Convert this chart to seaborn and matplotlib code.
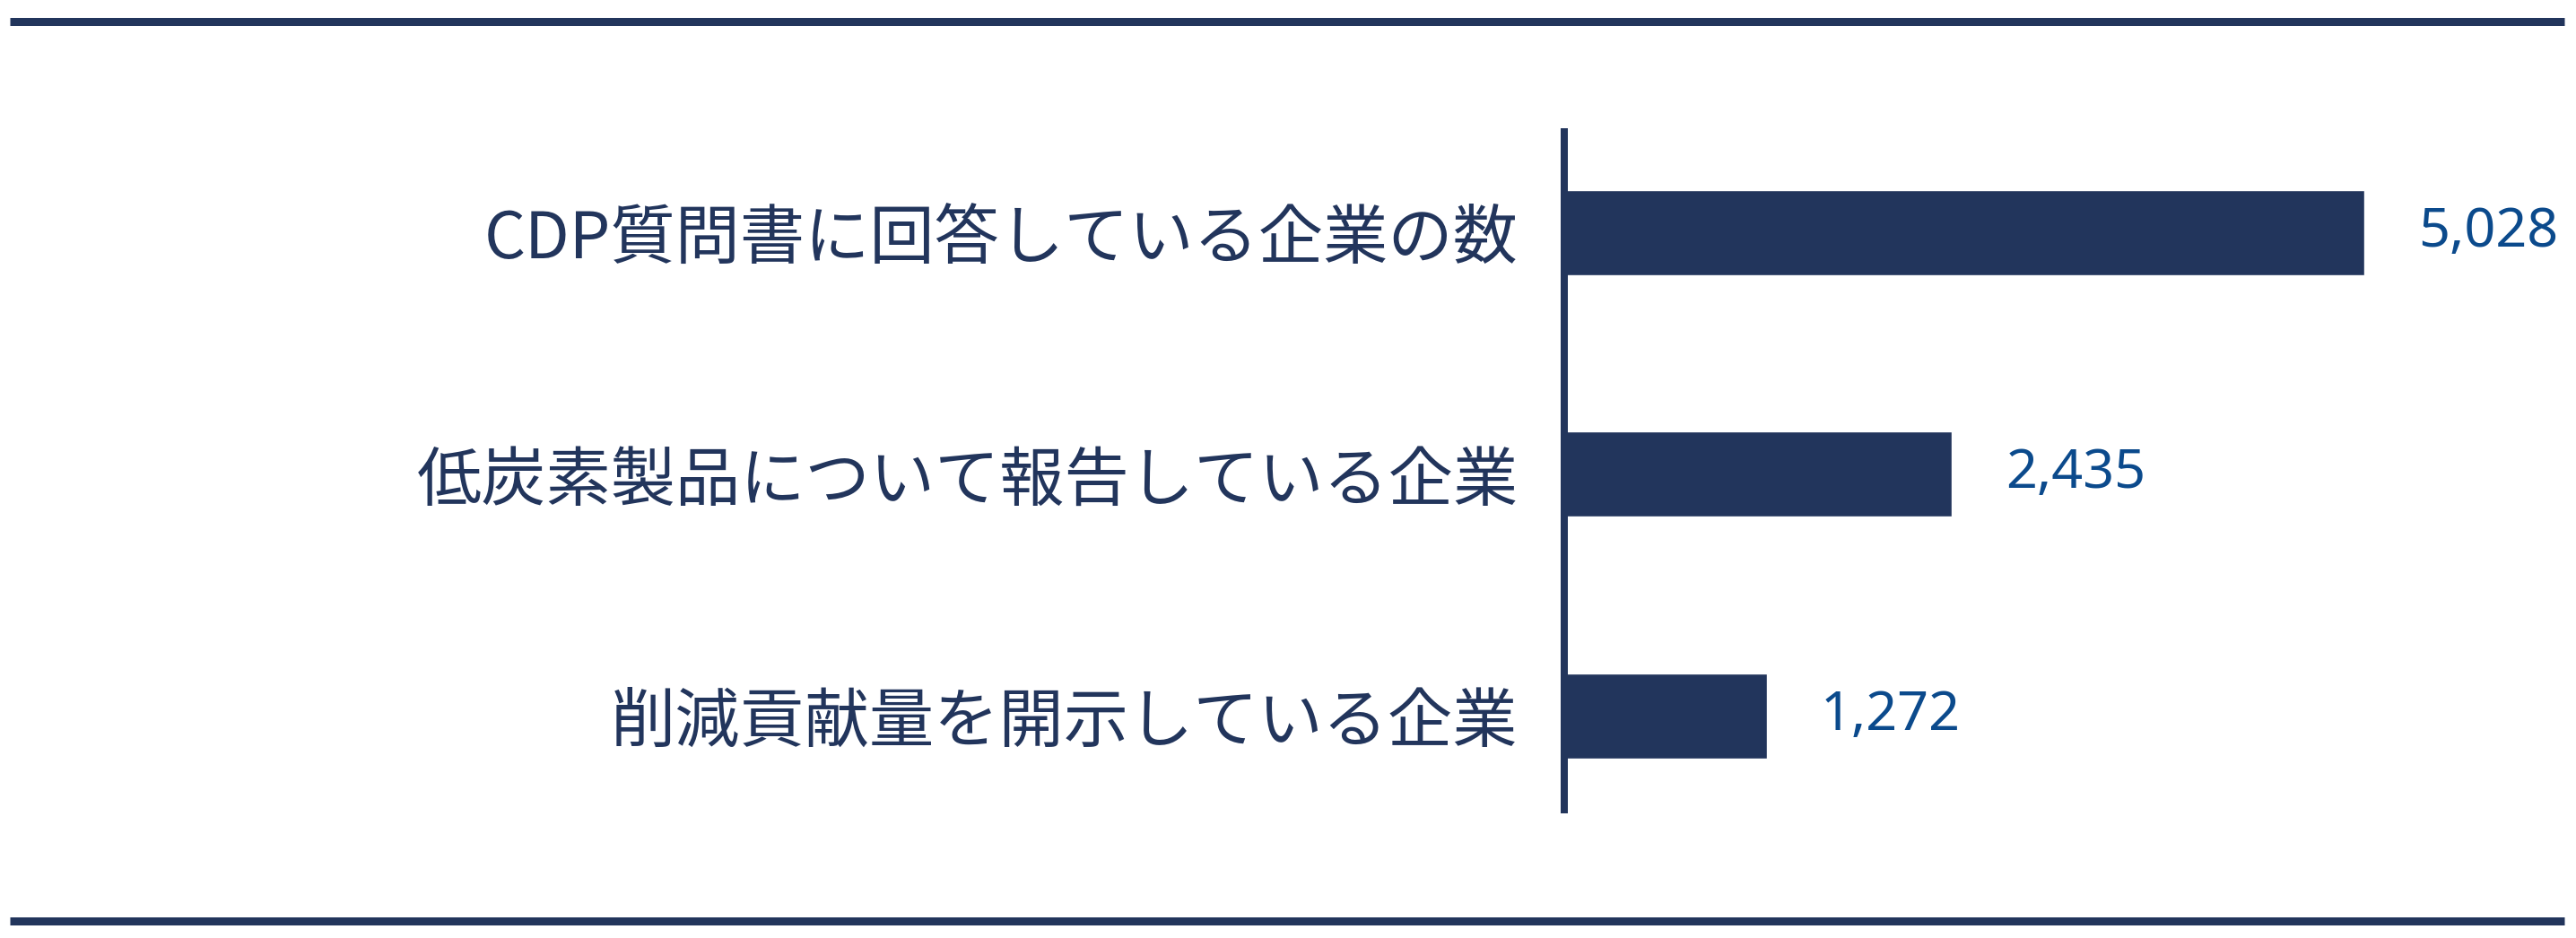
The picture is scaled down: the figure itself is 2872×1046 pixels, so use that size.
import matplotlib
matplotlib.use("Agg")
import matplotlib.pyplot as plt
from matplotlib.lines import Line2D
import seaborn as sns
import pandas as pd

categories = ["CDP質問書に回答している企業の数",
              "低炭素製品について報告している企業",
              "削減貢献量を開示している企業"]
counts = [5028, 2435, 1272]
value_labels = ["5,028", "2,435", "1,272"]

navy = "#22355c"
blue = "#0b4a8c"

sns.set_theme(style="white")
plt.rcParams["font.family"] = ["Noto Sans CJK JP", "DejaVu Sans"]

df = pd.DataFrame({"category": categories, "count": counts})

W, H = 2872, 1046
fig = plt.figure(figsize=(W / 100, H / 100), dpi=100)
ax = fig.add_axes([1744 / W, (H - 903) / H, 1 - 1744 / W, 756 / H])

sns.barplot(data=df, x="count", y="category", orient="h", color=navy,
            width=0.352, saturation=1, ax=ax)

ax.set_xlim(0, 6358)
ax.set_ylim(2.388, -0.417)
ax.set_xlabel("")
ax.set_ylabel("")
ax.set_xticks([])

for side in ["top", "right", "bottom"]:
    ax.spines[side].set_visible(False)
ax.spines["left"].set_color(navy)
ax.spines["left"].set_linewidth(8 * 0.72)

ax.tick_params(axis="y", length=0, pad=37, labelsize=52, labelcolor=navy)

for i, (v, lab) in enumerate(zip(counts, value_labels)):
    ax.annotate(lab, xy=(v, i), xytext=(43, 0), textcoords="offset points",
                ha="left", va="center", fontsize=44, color=blue,
                family=["Noto Sans", "DejaVu Sans"])

# thick rules above and below the chart
for yc in [23.5, 1027]:
    fig.add_artist(Line2D([11 / W, 2859 / W], [1 - yc / H] * 2,
                          color=navy, linewidth=9 * 0.72,
                          solid_capstyle="butt"))

fig.savefig("out.png", dpi=100, facecolor="white")
